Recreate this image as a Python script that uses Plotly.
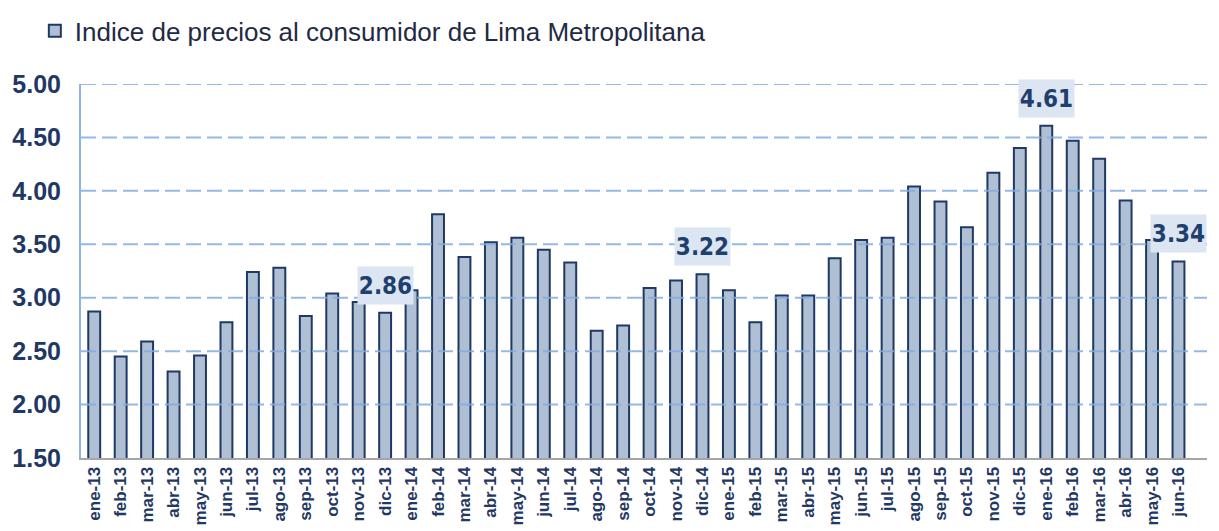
import plotly.graph_objects as go

categories = [
    "ene-13", "feb-13", "mar-13", "abr-13", "may-13", "jun-13", "jul-13", "ago-13", "sep-13", "oct-13", "nov-13", "dic-13",
    "ene-14", "feb-14", "mar-14", "abr-14", "may-14", "jun-14", "jul-14", "ago-14", "sep-14", "oct-14", "nov-14", "dic-14",
    "ene-15", "feb-15", "mar-15", "abr-15", "may-15", "jun-15", "jul-15", "ago-15", "sep-15", "oct-15", "nov-15", "dic-15",
    "ene-16", "feb-16", "mar-16", "abr-16", "may-16", "jun-16",
]
ipc_values = [
    2.87, 2.45, 2.59, 2.31, 2.46, 2.77, 3.24, 3.28, 2.83, 3.04, 2.96, 2.86,
    3.07, 3.78, 3.38, 3.52, 3.56, 3.45, 3.33, 2.69, 2.74, 3.09, 3.16, 3.22,
    3.07, 2.77, 3.02, 3.02, 3.37, 3.54, 3.56, 4.04, 3.90, 3.66, 4.17, 4.40,
    4.61, 4.47, 4.30, 3.91, 3.54, 3.34,
]
series_name = "Indice de precios al consumidor de Lima Metropolitana"
highlight_labels = ["dic-13", "dic-14", "ene-16", "jun-16"]
y_ticks = [1.5, 2.0, 2.5, 3.0, 3.5, 4.0, 4.5, 5.0]

NAVY = "#1F3864"
GRID = "rgba(130,172,225,0.85)"
fig = go.Figure()
fig.add_trace(go.Bar(
    x=categories, y=ipc_values, name=series_name,
    marker=dict(color="#B0C0D4", line=dict(color=NAVY, width=2)),
    showlegend=True,
))

# dashed gridlines drawn above the bars, as in the reference
for t in y_ticks[1:]:
    fig.add_shape(type="line", xref="paper", yref="y", x0=0, x1=1, y0=t, y1=t,
                  line=dict(color=GRID, width=2, dash="15px,6px"), layer="above")

for lab in highlight_labels:
    v = ipc_values[categories.index(lab)]
    fig.add_annotation(
        x=lab, y=v, text="<b>%.2f</b>" % v, showarrow=False,
        yanchor="bottom", yshift=8, width=55, height=37,
        font=dict(family="DejaVu Sans Condensed, Arial", size=24, color="#1F3F6E"),
        bgcolor="#DCE6F2", borderpad=0,
    )

# the page body adds an 8px offset, so the figure is sized to fit the window
fig.update_layout(
    width=1211, height=523,
    margin=dict(l=73, r=12, t=76, b=73, autoexpand=False),
    paper_bgcolor="white", plot_bgcolor="white",
    bargap=0.55,
    showlegend=True,
    legend=dict(
        orientation="h",
        x=-0.041, y=1.205, xanchor="left", yanchor="top",
        font=dict(family="Arial", size=26, color="#1F2A44"),
        itemwidth=30, bgcolor="rgba(0,0,0,0)",
    ),
    xaxis=dict(
        type="category", tickangle=-90,
        tickfont=dict(family="Arial", size=17, color=NAVY, weight="bold"),
        showline=True, linecolor="#A6A6A6", linewidth=2,
        showgrid=False, ticks="", automargin=False,
    ),
    yaxis=dict(
        range=[1.5, 5.0], tickvals=y_ticks, tickformat=".2f",
        tickfont=dict(family="Arial", size=25, color=NAVY, weight="bold"),
        showgrid=False,
        showline=True, linecolor="#8EB4E3", linewidth=2,
        ticks="outside", ticklen=13, tickcolor="rgba(0,0,0,0)",
        zeroline=False, automargin=False,
    ),
)

fig.write_html("out.html")
